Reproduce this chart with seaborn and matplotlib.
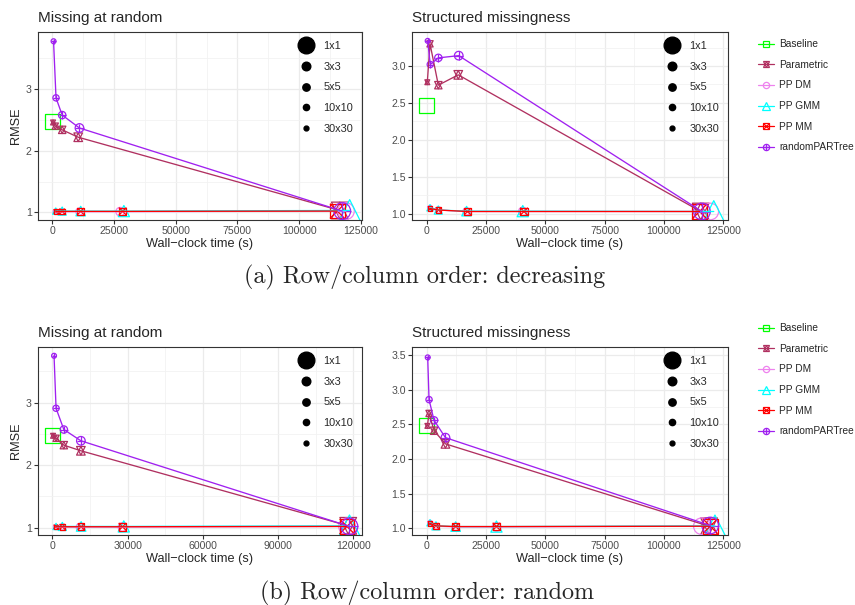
import matplotlib
matplotlib.use("Agg")
import pandas as pd
import seaborn as sns
from matplotlib import pyplot as plt
from matplotlib.lines import Line2D
from matplotlib.markers import MarkerStyle
from matplotlib.legend_handler import HandlerTuple
from matplotlib.ticker import AutoMinorLocator, FixedLocator

blocks = ["1x1", "3x3", "5x5", "10x10", "30x30"]
methods = ["Baseline", "Parametric", "PP DM", "PP GMM", "PP MM", "randomPARTree"]
colors = {
    "Baseline": "#00FF00",
    "Parametric": "#B03060",
    "PP DM": "#EE82EE",
    "PP GMM": "#00FFFF",
    "PP MM": "#FF0000",
    "randomPARTree": "#A020F0",
}

# baseline: one point per panel at time 0
baseline_rmse = [2.47, 2.47, 2.47, 2.48]

# values listed in block order 1x1, 3x3, 5x5, 10x10, 30x30
# (a) decreasing order, missing at random
dec_mar_time = {
    "Parametric": [116500, 10500, 4000, 1200, 300],
    "PP DM": [119000, 27500, 11000, 3800, 1300],
    "PP GMM": [120500, 29000, 11500, 4000, 1400],
    "PP MM": [115500, 28500, 11500, 4000, 1400],
    "randomPARTree": [117500, 11000, 4000, 1500, 500],
}
dec_mar_rmse = {
    "Parametric": [1.03, 2.22, 2.34, 2.40, 2.46],
    "PP DM": [1.02, 1.01, 1.01, 1.01, 1.01],
    "PP GMM": [1.03, 1.02, 1.02, 1.02, 1.02],
    "PP MM": [1.02, 1.015, 1.015, 1.015, 1.015],
    "randomPARTree": [1.02, 2.37, 2.58, 2.86, 3.78],
}
# (a) decreasing order, structured missingness
dec_str_time = {
    "Parametric": [115500, 13300, 4900, 1400, 250],
    "PP DM": [119500, 40500, 16800, 4900, 1400],
    "PP GMM": [121000, 40500, 16800, 4900, 1400],
    "PP MM": [115000, 41000, 17200, 5000, 1400],
    "randomPARTree": [116000, 13500, 4900, 1500, 400],
}
dec_str_rmse = {
    "Parametric": [1.03, 2.88, 2.74, 3.30, 2.78],
    "PP DM": [1.03, 1.03, 1.03, 1.05, 1.08],
    "PP GMM": [1.03, 1.035, 1.035, 1.05, 1.08],
    "PP MM": [1.03, 1.03, 1.03, 1.05, 1.07],
    "randomPARTree": [1.03, 3.14, 3.11, 3.02, 3.34],
}
# (b) random order, missing at random
rnd_mar_time = {
    "Parametric": [118000, 11400, 4600, 1500, 300],
    "PP DM": [117500, 28000, 11000, 4000, 1400],
    "PP GMM": [118500, 28500, 11500, 4000, 1500],
    "PP MM": [117500, 28000, 11500, 4000, 1400],
    "randomPARTree": [118500, 11400, 4600, 1500, 700],
}
rnd_mar_rmse = {
    "Parametric": [1.03, 2.23, 2.32, 2.43, 2.47],
    "PP DM": [1.02, 1.01, 1.01, 1.01, 1.01],
    "PP GMM": [1.03, 1.02, 1.02, 1.02, 1.02],
    "PP MM": [1.02, 1.015, 1.015, 1.015, 1.015],
    "randomPARTree": [1.02, 2.39, 2.57, 2.91, 3.75],
}
# (b) random order, structured missingness
rnd_str_time = {
    "Parametric": [119000, 7900, 3100, 980, 280],
    "PP DM": [116000, 29400, 12200, 3900, 1400],
    "PP GMM": [121500, 29400, 12200, 3900, 1400],
    "PP MM": [119500, 29400, 12200, 3900, 1400],
    "randomPARTree": [119500, 7900, 3100, 980, 420],
}
rnd_str_rmse = {
    "Parametric": [1.03, 2.22, 2.41, 2.66, 2.48],
    "PP DM": [1.03, 1.02, 1.02, 1.03, 1.08],
    "PP GMM": [1.035, 1.025, 1.025, 1.035, 1.08],
    "PP MM": [1.03, 1.025, 1.025, 1.035, 1.07],
    "randomPARTree": [1.04, 2.31, 2.56, 2.86, 3.47],
}

# marker pieces per method (ggplot shapes 0, 11, 1, 2, 7, 10) and scale
markers = {
    "Baseline": [("s", 0.886)],
    "Parametric": [("^", 1.0), ("v", 1.0)],
    "PP DM": [("o", 1.0)],
    "PP GMM": [("^", 1.3)],
    "PP MM": [("s", 0.886), ("x", 0.886)],
    "randomPARTree": [("o", 1.0), ("+", 1.0)],
}
size_pt = [12, 6.2, 5.3, 4.5, 3.5]

sns.set_style("whitegrid", {
    "axes.edgecolor": "#333333",
    "grid.color": "#EBEBEB",
    "xtick.bottom": True,
    "ytick.left": True,
    "xtick.color": "#333333",
    "ytick.color": "#333333",
})
plt.rcParams["font.family"] = ["Liberation Sans", "DejaVu Sans"]
plt.rcParams["xtick.labelcolor"] = "#4D4D4D"
plt.rcParams["ytick.labelcolor"] = "#4D4D4D"


def build_frame(times, rmses, base):
    rows = []
    for m in methods[1:]:
        for b, t, r in zip(blocks, times[m], rmses[m]):
            rows.append((m, b, t, r))
    rows.append(("Baseline", "1x1", 0, base))
    return pd.DataFrame(rows, columns=["method", "block", "time", "rmse"])


def draw_panel(ax, df, title, xticks, yticks, xlim, ylim, ylabel, yfmt):
    sns.lineplot(data=df[df.method != "Baseline"], x="time", y="rmse",
                 hue="method", hue_order=methods[1:], palette=colors,
                 estimator=None, sort=True, legend=False, linewidth=0.95, ax=ax)
    for m in methods:
        sub = df[df.method == m]
        for mk, k in markers[m]:
            sizes = {b: (d * k) ** 2 for b, d in zip(blocks, size_pt)}
            if MarkerStyle(mk).is_filled():
                kw = dict(color=colors[m], facecolors="none", edgecolor=colors[m])
            else:
                kw = dict(color=colors[m])
            sns.scatterplot(data=sub, x="time", y="rmse", size="block",
                            sizes=sizes, size_order=blocks, marker=mk,
                            linewidth=0.9, legend=False, ax=ax, **kw)
    ax.set_xlim(*xlim)
    ax.set_ylim(*ylim)
    ax.xaxis.set_major_locator(FixedLocator(xticks))
    ax.yaxis.set_major_locator(FixedLocator(yticks))
    ax.set_xticklabels([str(t) for t in xticks])
    ax.set_yticklabels([yfmt.format(t) for t in yticks])
    ax.xaxis.set_minor_locator(AutoMinorLocator(2))
    ax.yaxis.set_minor_locator(AutoMinorLocator(2))
    ax.grid(which="major", color="#EBEBEB", linewidth=0.9)
    ax.grid(which="minor", color="#F2F2F2", linewidth=0.6)
    ax.set_axisbelow(True)
    ax.tick_params(which="major", length=3, width=0.8, labelsize=7.6, pad=1.5)
    ax.tick_params(which="minor", length=0)
    for s in ax.spines.values():
        s.set_linewidth(0.8)
        s.set_color("#333333")
    ax.set_title(title, loc="left", fontsize=11, pad=7)
    ax.set_xlabel("Wall\u2212clock time (s)", fontsize=9.2, labelpad=1.5)
    ax.set_ylabel(ylabel, fontsize=9.2, labelpad=3)

    # size legend inside the panel
    handles = [Line2D([], [], marker="o", ls="", color="black", markersize=d)
               for d in size_pt]
    ax.legend(handles, blocks, loc="upper right", frameon=False, fontsize=7.8,
              labelspacing=1.0, handletextpad=0.8, handlelength=1.6,
              borderaxespad=0.4, bbox_to_anchor=(1.0, 1.0))


fig = plt.figure(figsize=(8.55, 6.05), dpi=100)
W, H = 855, 605


def add_axes(x0, y0, x1, y1):
    return fig.add_axes([x0 / W, 1 - y1 / H, (x1 - x0) / W, (y1 - y0) / H])


ax_a1 = add_axes(38, 32, 362, 220)
ax_a2 = add_axes(412, 32, 728, 220)
ax_b1 = add_axes(38, 347, 362, 535)
ax_b2 = add_axes(412, 347, 728, 535)

ticks25 = [0, 25000, 50000, 75000, 100000, 125000]
ticks30 = [0, 30000, 60000, 90000, 120000]

draw_panel(ax_a1, build_frame(dec_mar_time, dec_mar_rmse, baseline_rmse[0]),
           "Missing at random", ticks25, [1, 2, 3], (-5800, 125500),
           (0.875, 3.93), "RMSE", "{:g}")
draw_panel(ax_a2, build_frame(dec_str_time, dec_str_rmse, baseline_rmse[1]),
           "Structured missingness", ticks25, [1.0, 1.5, 2.0, 2.5, 3.0],
           (-6200, 127000), (0.915, 3.46), "", "{:.1f}")
draw_panel(ax_b1, build_frame(rnd_mar_time, rnd_mar_rmse, baseline_rmse[2]),
           "Missing at random", ticks30, [1, 2, 3], (-5700, 123500),
           (0.883, 3.89), "RMSE", "{:g}")
draw_panel(ax_b2, build_frame(rnd_str_time, rnd_str_rmse, baseline_rmse[3]),
           "Structured missingness", ticks25, [1.0, 1.5, 2.0, 2.5, 3.0, 3.5],
           (-6200, 127000), (0.903, 3.62), "", "{:.1f}")

# method legends on the right of each row
leg_handles = []
for m in methods:
    parts = []
    for i, (mk, k) in enumerate(markers[m]):
        filled = MarkerStyle(mk).is_filled()
        parts.append(Line2D([], [], color=colors[m], lw=0.9 if i == 0 else 0,
                            marker=mk, markersize=4.5 * k, markeredgewidth=0.9,
                            markerfacecolor="none" if filled else colors[m]))
    leg_handles.append(tuple(parts))

for top in (30, 314):
    fig.legend(leg_handles, methods, loc="upper left",
               bbox_to_anchor=(749 / W, 1 - top / H), frameon=False,
               fontsize=7.3, handlelength=1.6, handletextpad=0.5,
               labelspacing=1.05,
               handler_map={tuple: HandlerTuple(ndivide=1, pad=0)})

fig.text(425 / W, 1 - 277 / H, "(a) Row/column order: decreasing",
         ha="center", va="center", fontsize=17.4, family="cmr10")
fig.text(427 / W, 1 - 593 / H, "(b) Row/column order: random",
         ha="center", va="center", fontsize=17.4, family="cmr10")

fig.savefig("out.png", dpi=100)
plt.close(fig)
